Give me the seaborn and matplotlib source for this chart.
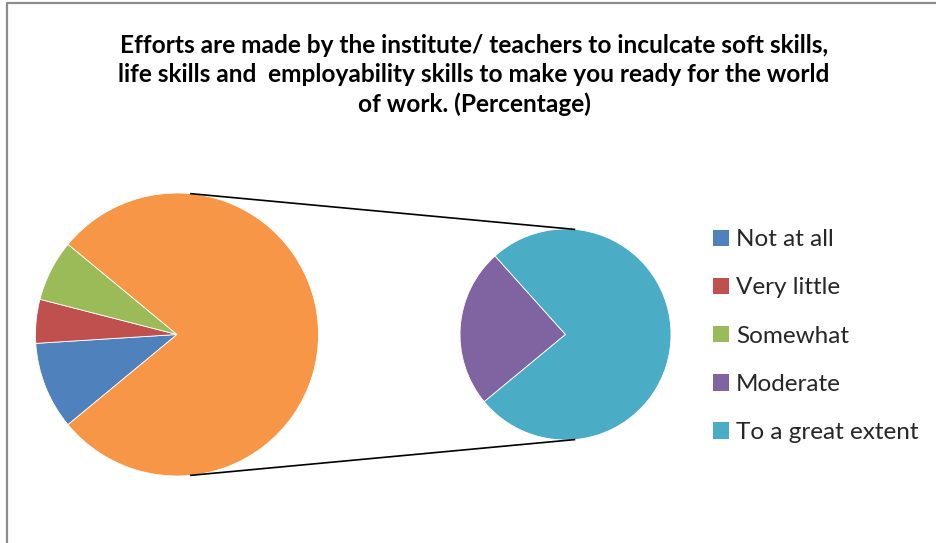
import numpy as np
import matplotlib
matplotlib.use("Agg")
import matplotlib.pyplot as plt
import seaborn as sns
from matplotlib.patches import Patch

categories = ["Not at all", "Very little", "Somewhat", "Moderate", "To a great extent"]
values = [10, 5, 7, 19, 59]
colors = ["#4F81BD", "#C0504D", "#9BBB59", "#8064A2", "#4BACC6"]
other_color = "#F79646"
title = ("Efforts are made by the institute/ teachers to inculcate soft skills,\n"
         "life skills and  employability skills to make you ready for the world\n"
         "of work. (Percentage)")

sns.set_theme(style="white")
plt.rcParams["font.family"] = ["Lato", "DejaVu Sans"]

W, H = 936, 543
fig = plt.figure(figsize=(W / 100, H / 100), dpi=100)
ax = fig.add_axes([0, 0, 1, 1])

first_vals = values[:3]
second_vals = values[3:]
other = sum(second_vals)
total = sum(values)
start = 180 + (total - other) / total * 360 / 2

c1 = (177, H - 334.5); r1 = 141.5
c2 = (565.5, H - 334.5); r2 = 105.5

wp = dict(linewidth=0.6, edgecolor="white")
ax.pie(first_vals + [other], colors=colors[:3] + [other_color], center=c1, radius=r1,
       startangle=start, counterclock=False, wedgeprops=wp, frame=True)
ax.pie(second_vals, colors=colors[3:], center=c2, radius=r2,
       startangle=start, counterclock=False, wedgeprops=wp, frame=True)

# connector lines (external tangents)
d = c2[0] - c1[0]
ct = (r1 - r2) / d
st = np.sqrt(1 - ct ** 2)
for s in (1, -1):
    ax.plot([c1[0] + r1 * ct, c2[0] + r2 * ct],
            [c1[1] + s * r1 * st, c2[1] + s * r2 * st],
            color="black", lw=1.2, solid_capstyle="butt")

ax.set_xlim(0, W)
ax.set_ylim(0, H)
ax.set_aspect("equal")
ax.axis("off")

# chart border
ax.plot([7, 7, W + 5], [-5, H - 3, H - 3], color="#8C8C8C", lw=1.6, clip_on=False)

ax.text(474, H - 75, title, ha="center", va="center", fontsize=17.6,
        fontweight="bold", linespacing=1.33, color="#000000")

handles = [Patch(facecolor=c, edgecolor="none") for c in colors]
leg = fig.legend(handles, categories, loc="upper left", bbox_to_anchor=(703 / W, 1 - 219.5 / H),
                 frameon=False, fontsize=17.5, handlelength=0.66, handleheight=0.66,
                 handletextpad=0.29, labelspacing=1.12, borderaxespad=0)

fig.savefig("out.png", dpi=100)
